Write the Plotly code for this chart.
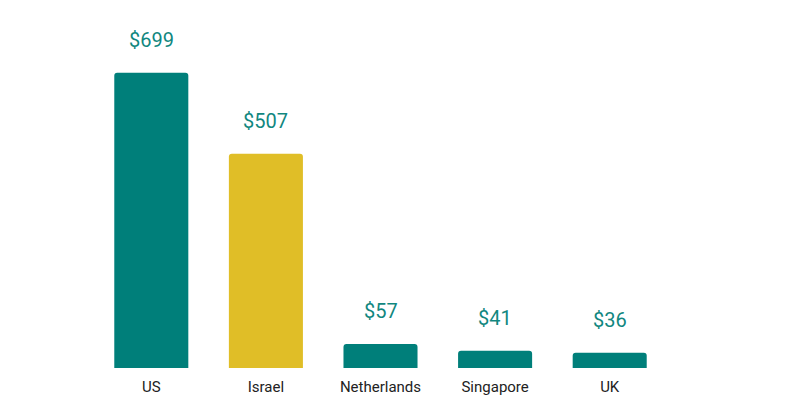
import plotly.graph_objects as go

countries = ["US", "Israel", "Netherlands", "Singapore", "UK"]
values = [699, 507, 57, 41, 36]
labels = ["$699", "$507", "$57", "$41", "$36"]

TEAL = "#007F7A"
LABEL_TEAL = "#11877F"
YELLOW = "#E0BE27"
colors = [YELLOW if c == "Israel" else TEAL for c in countries]

fig = go.Figure(go.Bar(
    x=countries, y=values, marker=dict(color=colors, line=dict(width=0)),
    hoverinfo="skip",
))

for c, v, t in zip(countries, values, labels):
    fig.add_annotation(x=c, y=v, text=t, showarrow=False, yanchor="middle",
                       yshift=33, font=dict(family="Roboto", size=20, color=LABEL_TEAL))

fig.update_layout(
    width=806, height=416,
    margin=dict(l=94, r=139, t=47, b=48),
    plot_bgcolor="white", paper_bgcolor="white",
    bargap=0.354, barcornerradius=3,
    showlegend=False,
    font=dict(family="Roboto", size=15, color="#222222"),
    xaxis=dict(showgrid=False, showline=False, zeroline=False, ticks="",
               ticklabelstandoff=8,
               tickfont=dict(family="Roboto", size=15, color="#222222")),
    yaxis=dict(visible=False, range=[0, 760], showgrid=False, zeroline=False),
)

fig.write_html("out.html")
